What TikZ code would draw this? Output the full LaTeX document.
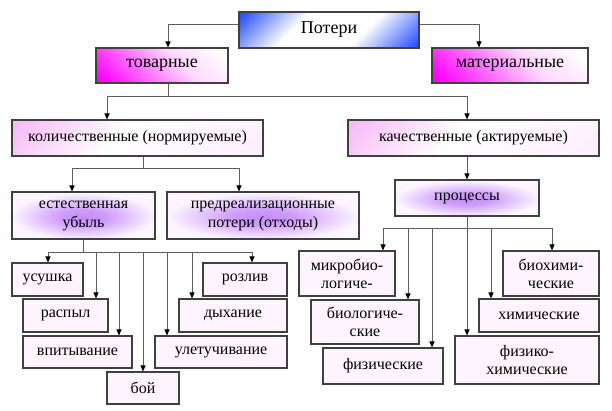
\documentclass[tikz,border=0pt]{standalone}
\usepackage{fontspec}
\setmainfont{Liberation Serif}
\usetikzlibrary{arrows.meta}
% Couleurs
\definecolor{bleuP}{RGB}{40,80,255}
\definecolor{magentaT}{RGB}{255,0,255}
\definecolor{roseT}{RGB}{255,215,255}
\definecolor{roseQ}{RGB}{247,185,247}
\definecolor{lilas}{RGB}{198,140,250}
\definecolor{pale}{RGB}{252,245,254}
\definecolor{feuilleF}{RGB}{253,244,253}
\definecolor{bord}{RGB}{64,64,64}
\definecolor{trait}{RGB}{95,95,95}
% Degrades
\pgfdeclarehorizontalshading{ombrePertes}{100bp}{color(0bp)=(bleuP); color(16bp)=(bleuP); color(38bp)=(white); color(62bp)=(white); color(84bp)=(bleuP); color(100bp)=(bleuP)}
\pgfdeclarehorizontalshading{ombreType}{100bp}{color(0bp)=(magentaT); color(18bp)=(magentaT); color(40bp)=(magentaT!55!white); color(58bp)=(roseT); color(82bp)=(white); color(100bp)=(white)}
\pgfdeclarehorizontalshading{ombreNature}{100bp}{color(0bp)=(roseQ); color(16bp)=(roseQ); color(45bp)=(white); color(85bp)=(roseQ!25!white); color(100bp)=(roseQ!25!white)}
\pgfdeclareradialshading{ombreLueur}{\pgfpoint{0bp}{-2bp}}{color(0bp)=(lilas); color(8bp)=(lilas!85!pale); color(16bp)=(lilas!45!pale); color(25bp)=(pale); color(50bp)=(pale)}
\begin{document}
\begin{tikzpicture}[x=1pt,y=-1pt]
	% Styles
	\tikzstyle{boite}=[draw=bord,line width=1.1pt,rectangle,inner sep=0pt,align=center,font=\fontsize{16}{19}\selectfont]
	\tikzstyle{racine}=[boite,shading=ombrePertes,shading angle=-45,font=\fontsize{18}{20}\selectfont]
	\tikzstyle{genre}=[boite,shading=ombreType,shading angle=45,font=\fontsize{18}{20}\selectfont]
	\tikzstyle{nature}=[boite,shading=ombreNature,shading angle=-45]
	\tikzstyle{groupe}=[boite,shading=ombreLueur]
	\tikzstyle{feuille}=[boite,fill=feuilleF,font=\fontsize{16}{18}\selectfont]
	\tikzstyle{fleche}=[->,>={Triangle[length=6pt,width=5pt,color=black]},draw=trait,line width=1pt]
	% Cadre
	\useasboundingbox (0,0) rectangle (612,410);
	% Niveaux
	\def\NiveauA{30}
	\def\NiveauB{65.5}
	\def\NiveauC{138}
	% Noeuds
	\node[racine,minimum width=180pt,minimum height=36pt] (pertes) at (329,\NiveauA) {Потери};
	\node[genre,minimum width=132pt,minimum height=35pt] (tovar) at (162,\NiveauB) {товарные};
	\node[genre,minimum width=156pt,minimum height=35pt] (mater) at (510,\NiveauB) {материальные};
	\node[nature,minimum width=251pt,minimum height=36pt] (kolich) at (137.5,\NiveauC) {количественные (нормируемые)};
	\node[nature,minimum width=251pt,minimum height=36pt] (kachest) at (473.5,\NiveauC) {качественные (актируемые)};
	\node[groupe,minimum width=143pt,minimum height=47pt] (estest) at (83.5,215.5) {естественная\\убыль};
	\node[groupe,minimum width=192pt,minimum height=47pt] (predreal) at (263,215.5) {предреализационные\\потери (отходы)};
	\node[groupe,minimum width=144pt,minimum height=36pt] (processy) at (467,198) {процессы};
	%
	\node[feuille,minimum width=71pt,minimum height=33pt] (usushka) at (47.5,279.5) {усушка};
	\node[feuille,minimum width=85pt,minimum height=33pt] (raspyl) at (65.5,315.5) {распыл};
	\node[feuille,minimum width=109pt,minimum height=32pt] (vpityv) at (77.5,352) {впитывание};
	\node[feuille,minimum width=72pt,minimum height=32pt] (boi) at (143,388) {бой};
	\node[feuille,minimum width=84pt,minimum height=33pt] (rozliv) at (245,279.5) {розлив};
	\node[feuille,minimum width=108pt,minimum height=33pt] (dykhanie) at (233,315.5) {дыхание};
	\node[feuille,minimum width=132pt,minimum height=32pt] (uletuch) at (221,352) {улетучивание};
	%
	\node[feuille,minimum width=96pt,minimum height=45pt] (mikrobio) at (347,273.5) {микробио-\\логиче-};
	\node[feuille,minimum width=108pt,minimum height=44pt] (biolog) at (365,322) {биологиче-\\ские};
	\node[feuille,minimum width=120pt,minimum height=36pt] (fizich) at (383,366) {физические};
	\node[feuille,minimum width=144pt,minimum height=48pt] (fizkhim) at (527,360) {физико-\\химические};
	\node[feuille,minimum width=120pt,minimum height=33pt] (khimich) at (539,315.5) {химические};
	\node[feuille,minimum width=96pt,minimum height=45pt] (biokhim) at (551,273.5) {биохими-\\ческие};
	% Arcs
	\draw[fleche] ([yshift=6pt]pertes.west) -| ([xshift=6pt]tovar.north);
	\draw[fleche] ([yshift=6pt]pertes.east) -| ([xshift=-31pt]mater.north);
	\draw[fleche] ([xshift=6pt]tovar.south) -- ++(0,13) -| ([xshift=-30.5pt]kolich.north);
	\draw[fleche] ([xshift=6pt]tovar.south) -- ++(0,13) -| ([xshift=-6.5pt]kachest.north);
	\draw[fleche] ([xshift=5.5pt]kolich.south) -- ++(0,12) -| ([xshift=-11.5pt]estest.north);
	\draw[fleche] ([xshift=5.5pt]kolich.south) -- ++(0,12) -| ([xshift=-24pt]predreal.north);
	\draw[fleche] ([xshift=-6.5pt]kachest.south) -- (processy.north);
	%
	\draw[fleche] (estest.south) -- ++(0,13) -| ([xshift=0.5pt]usushka.north);
	\draw[fleche] (estest.south) -- ++(0,13) -| ([xshift=30.5pt]raspyl.north);
	\draw[fleche] (estest.south) -- ++(0,13) -| ([xshift=41.5pt]vpityv.north);
	\draw[fleche] (estest.south) -- ++(0,13) -| (boi.north);
	\draw[fleche] (estest.south) -- ++(0,13) -| ([xshift=-54pt]uletuch.north);
	\draw[fleche] (estest.south) -- ++(0,13) -| ([xshift=-41pt]dykhanie.north);
	\draw[fleche] (estest.south) -- ++(0,13) -| ([xshift=7pt]rozliv.north);
	%
	\draw[fleche] (processy.south) -- ++(0,12) -| ([xshift=36pt]mikrobio.north);
	\draw[fleche] (processy.south) -- ++(0,12) -| ([xshift=43pt]biolog.north);
	\draw[fleche] (processy.south) -- ++(0,12) -| ([xshift=49pt]fizich.north);
	\draw[fleche] (processy.south) -- ([xshift=-60pt]fizkhim.north);
	\draw[fleche] (processy.south) -- ++(0,12) -| ([xshift=-48pt]khimich.north);
	\draw[fleche] (processy.south) -- ++(0,12) -| ([xshift=1pt]biokhim.north);
\end{tikzpicture}
\end{document}
